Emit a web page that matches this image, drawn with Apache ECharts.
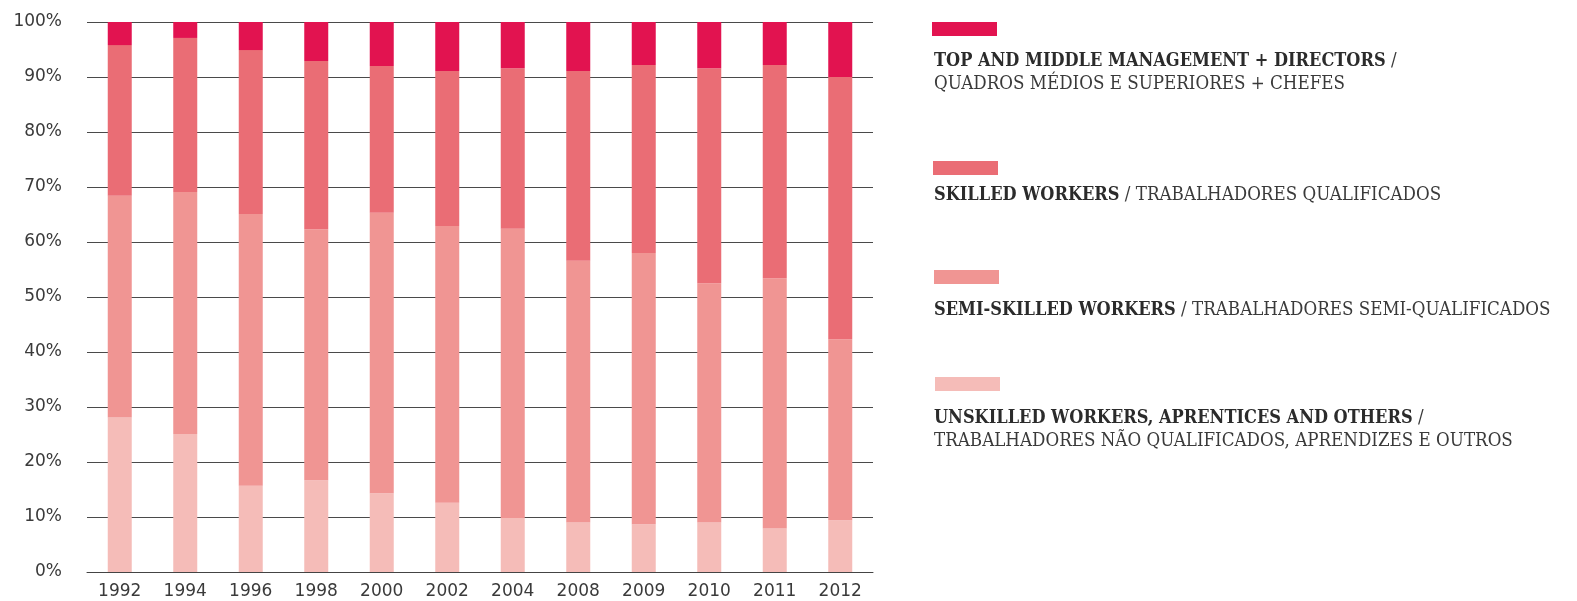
<!DOCTYPE html>
<html>
<head>
<meta charset="utf-8">
<script src="https://cdn.jsdelivr.net/npm/echarts@6/dist/echarts.min.js"></script>
<style>
    html, body {margin: 0; padding: 0; background: #fff;}
    #chart {width: 1577px; height: 601px;}
</style>
</head>
<body>
<div id="chart"></div>
<script>
    // years on the x axis
    const years = ['1992', '1994', '1996', '1998', '2000', '2002', '2004', '2008', '2009', '2010', '2011', '2012']

    // shares in %, bottom to top of each bar
    const unskilled = [28.1, 25.1, 15.7, 16.7, 14.3, 12.6, 9.8, 9.0, 8.7, 9.0, 7.9, 9.4]
    const semiSkilled = [40.3, 44.0, 49.4, 45.6, 51.0, 50.3, 52.6, 47.6, 49.3, 43.5, 45.5, 32.9]
    const skilled = [27.4, 28.0, 29.8, 30.6, 26.7, 28.2, 29.2, 34.5, 34.2, 39.1, 38.8, 47.7]
    const management = [4.2, 2.9, 5.1, 7.1, 8.0, 8.9, 8.4, 8.9, 7.8, 8.4, 7.8, 10.0]

    const yTicks = [0, 10, 20, 30, 40, 50, 60, 70, 80, 90, 100]

    // legend, top to bottom (bold english / portuguese)
    const legendItems = [
        {en: 'TOP AND MIDDLE MANAGEMENT + DIRECTORS', pt: '\nQUADROS MÉDIOS E SUPERIORES + CHEFES', color: '#e21350', box: 22, text: 73},
        {en: 'SKILLED WORKERS', pt: ' TRABALHADORES QUALIFICADOS', color: '#ea6d75', box: 161, text: 195},
        {en: 'SEMI-SKILLED WORKERS', pt: ' TRABALHADORES SEMI-QUALIFICADOS', color: '#f09593', box: 270, text: 310},
        {en: 'UNSKILLED WORKERS, APRENTICES AND OTHERS', pt: '\nTRABALHADORES NÃO QUALIFICADOS, APRENDIZES E OUTROS', color: '#f5bcb8', box: 377, text: 430}
    ]

    const legendFont = "'DejaVu Serif Condensed', 'DejaVu Serif', serif"

    let graphic = []
    legendItems.forEach((item, i) => {
        graphic.push({
            type: 'rect',
            left: 932 + i,
            top: item.box,
            shape: {width: 65, height: 14},
            style: {fill: item.color}
        })
        graphic.push({
            type: 'text',
            x: 934,
            y: item.text,
            style: {
                text: '{b|' + item.en + '}{n| /' + item.pt + '}',
                verticalAlign: 'middle',
                rich: {
                    b: {fontFamily: legendFont, fontWeight: 'bold', fontSize: 18, fill: '#2b2b2b', lineHeight: 23},
                    n: {fontFamily: legendFont, fontWeight: 'normal', fontSize: 18.6, fill: '#3a3a3a', lineHeight: 23}
                }
            }
        })
    })

    function bar(name, data, color) {
        return {
            name: name,
            type: 'bar',
            stack: 'total',
            barWidth: 24,
            data: data,
            itemStyle: {color: color},
            emphasis: {disabled: true}
        }
    }

    let chart = echarts.init(document.getElementById('chart'))
    chart.setOption({
        animation: false,
        grid: {left: 87, top: 22, width: 786, height: 550},
        xAxis: {
            type: 'category',
            data: years,
            axisLine: {lineStyle: {color: '#444', width: 1}},
            axisTick: {show: false},
            axisLabel: {
                color: '#3a3a3a',
                fontSize: 17,
                fontFamily: 'DejaVu Sans',
                margin: 11
            }
        },
        yAxis: {
            type: 'value',
            min: yTicks[0],
            max: yTicks[yTicks.length - 1],
            interval: yTicks[1] - yTicks[0],
            axisLine: {show: false},
            axisTick: {show: false},
            axisLabel: {
                formatter: '{value}%',
                color: '#3a3a3a',
                fontSize: 17,
                fontFamily: 'DejaVu Sans',
                margin: 25
            },
            splitLine: {lineStyle: {color: '#4a4a4a', width: 1}}
        },
        series: [
            bar('Unskilled workers', unskilled, '#f5bcb8'),
            bar('Semi-skilled workers', semiSkilled, '#f09593'),
            bar('Skilled workers', skilled, '#ea6d75'),
            bar('Top and middle management + directors', management, '#e21350')
        ],
        graphic: graphic
    })
</script>
</body>
</html>
